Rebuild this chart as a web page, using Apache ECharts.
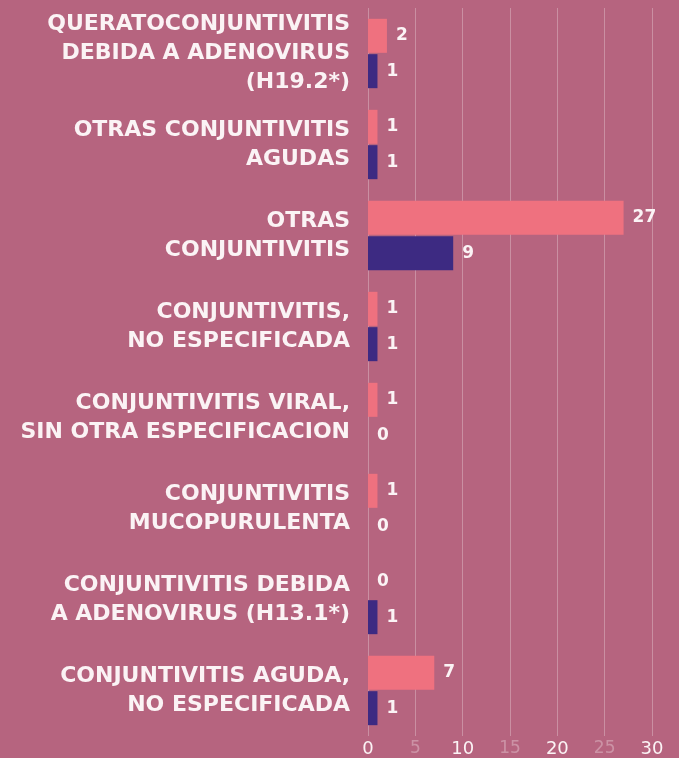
<!DOCTYPE html>
<html>
<head>
<meta charset="utf-8">
<script src="https://cdn.jsdelivr.net/npm/echarts@6/dist/echarts.min.js"></script>
<style>
  html, body { margin: 0; padding: 0; background: #b6647f; }
  #chart { width: 679px; height: 758px; }
</style>
</head>
<body>
<div id="chart"></div>
<script>
  // categorías (de arriba a abajo)
  const categories = [
    'QUERATOCONJUNTIVITIS\nDEBIDA A ADENOVIRUS\n(H19.2*)',
    'OTRAS CONJUNTIVITIS\nAGUDAS',
    'OTRAS\nCONJUNTIVITIS',
    'CONJUNTIVITIS,\nNO ESPECIFICADA',
    'CONJUNTIVITIS VIRAL,\nSIN OTRA ESPECIFICACION',
    'CONJUNTIVITIS\nMUCOPURULENTA',
    'CONJUNTIVITIS DEBIDA\nA ADENOVIRUS (H13.1*)',
    'CONJUNTIVITIS AGUDA,\nNO ESPECIFICADA'
  ]
  const pinkValues = [2, 1, 27, 1, 1, 1, 0, 7]
  const blueValues = [1, 1, 9, 1, 0, 0, 1, 1]
  const fadedTicks = [5, 15, 25]

  const chart = echarts.init(document.getElementById('chart'))

  const barLabel = {
    show: true,
    position: 'right',
    distance: 9,
    color: '#fbf3f5',
    fontFamily: 'DejaVu Sans',
    fontWeight: 'bold',
    fontSize: 17
  }

  chart.setOption({
    backgroundColor: '#b6647f',
    animation: false,
    grid: { left: 368, right: 27, top: 8, bottom: 22, containLabel: false },
    xAxis: {
      type: 'value',
      min: 0,
      max: 30,
      interval: 5,
      axisLine: { show: false },
      axisTick: { show: false },
      splitLine: { show: true, lineStyle: { color: 'rgba(255,255,255,0.28)', width: 1 } },
      axisLabel: {
        margin: 4,
        formatter: function (v) {
          return fadedTicks.indexOf(v) >= 0 ? '{dim|' + v + '}' : '{full|' + v + '}'
        },
        rich: {
          full: { color: '#fbf3f5', fontFamily: 'DejaVu Sans', fontSize: 18 },
          dim: { color: 'rgba(255,255,255,0.3)', fontFamily: 'DejaVu Sans', fontSize: 17 }
        }
      }
    },
    yAxis: {
      type: 'category',
      inverse: true,
      data: categories,
      axisLine: { show: false },
      axisTick: { show: false },
      axisLabel: {
        margin: 18,
        color: '#fbf3f5',
        fontFamily: 'DejaVu Sans',
        fontWeight: 'bold',
        fontSize: 22,
        lineHeight: 29,
        align: 'right'
      }
    },
    series: [
      {
        name: 'rosa',
        type: 'bar',
        data: pinkValues,
        barWidth: 34,
        barGap: '4%',
        itemStyle: { color: '#ef717f' },
        label: barLabel
      },
      {
        name: 'azul',
        type: 'bar',
        data: blueValues,
        barWidth: 34,
        itemStyle: { color: '#3d2a82' },
        label: barLabel
      }
    ]
  })
</script>
</body>
</html>
